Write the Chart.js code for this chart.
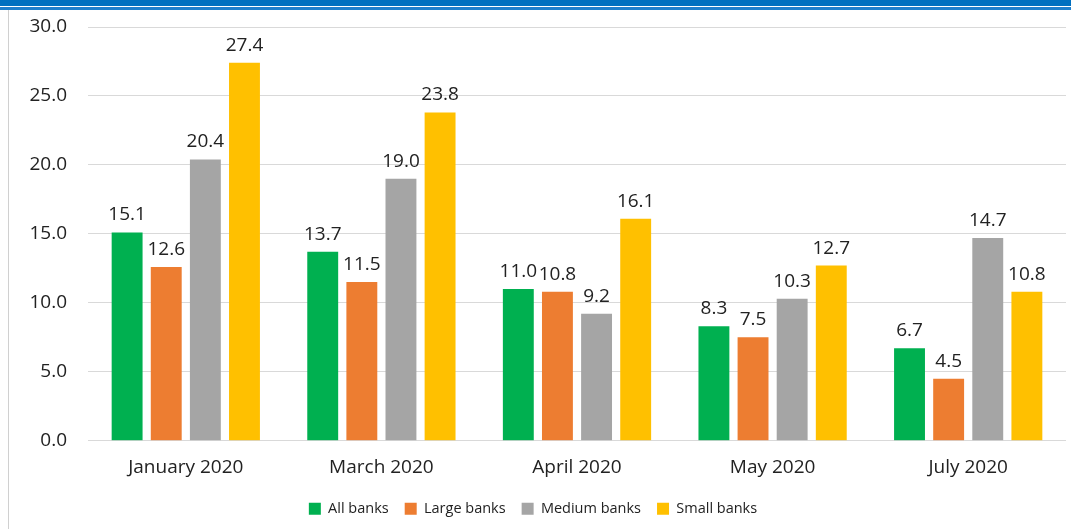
<!DOCTYPE html>
<html lang="en">
<head>
  <meta charset="UTF-8" />
  <title>Banks chart</title>
  <script src="https://cdn.jsdelivr.net/npm/chart.js"></script>
  <style>
    body {
      margin: 0;
      background-color: #ffffff;
      font-family: 'Open Sans', 'Noto Sans', sans-serif;
    }
    #wrap {
      position: relative;
      width: 1071px;
      height: 529px;
      overflow: hidden;
    }
    #topbar {
      position: absolute;
      left: 0; top: 0;
      width: 1071px; height: 6px;
      background-color: #0070c0;
    }
    #topline {
      position: absolute;
      left: 0; top: 7px;
      width: 1071px; height: 3px;
      background-color: #1f7fcc;
    }
    #leftline {
      position: absolute;
      left: 8px; top: 10px;
      width: 1px; height: 519px;
      background-color: #d0d0d0;
    }
    canvas {
      position: absolute;
      left: 0; top: 0;
    }
  </style>
</head>
<body>
<div id="wrap">
  <canvas id="bankChart" width="1071" height="529"></canvas>
  <div id="topbar"></div>
  <div id="topline"></div>
  <div id="leftline"></div>
</div>

<script>
  const months = ['January 2020', 'March 2020', 'April 2020', 'May 2020', 'July 2020'];
  const allBanks = [15.1, 13.7, 11.0, 8.3, 6.7];
  const largeBanks = [12.6, 11.5, 10.8, 7.5, 4.5];
  const mediumBanks = [20.4, 19.0, 9.2, 10.3, 14.7];
  const smallBanks = [27.4, 23.8, 16.1, 12.7, 10.8];

  const textColor = '#222222';
  const fontFamily = "'Open Sans', 'Noto Sans', sans-serif";

  // draws the value above each bar
  const valueLabels = {
    id: 'valueLabels',
    afterDatasetsDraw(chart) {
      const c = chart.ctx;
      c.save();
      c.font = '19px ' + fontFamily;
      c.fillStyle = textColor;
      c.textAlign = 'center';
      c.textBaseline = 'alphabetic';
      chart.data.datasets.forEach((ds, i) => {
        chart.getDatasetMeta(i).data.forEach((bar, j) => {
          c.fillText(ds.data[j].toFixed(1), bar.x, bar.y - 12);
        });
      });
      c.restore();
    }
  };

  new Chart(document.getElementById('bankChart'), {
    type: 'bar',
    data: {
      labels: months,
      datasets: [
        { label: 'All banks', data: allBanks, backgroundColor: '#00b050' },
        { label: 'Large banks', data: largeBanks, backgroundColor: '#ed7d31' },
        { label: 'Medium banks', data: mediumBanks, backgroundColor: '#a5a5a5' },
        { label: 'Small banks', data: smallBanks, backgroundColor: '#ffc000' }
      ]
    },
    options: {
      responsive: false,
      animation: false,
      datasets: {
        bar: { categoryPercentage: 0.8, barPercentage: 0.79 }
      },
      layout: { padding: { top: 27, right: 5, left: 0, bottom: 3 } },
      plugins: {
        tooltip: { enabled: false },
        legend: {
          position: 'bottom',
          labels: {
            boxWidth: 12,
            boxHeight: 12,
            padding: 16,
            color: textColor,
            font: { size: 14.5, family: fontFamily }
          }
        }
      },
      scales: {
        x: {
          grid: { display: false },
          border: { display: false },
          ticks: { color: textColor, font: { size: 19, family: fontFamily }, padding: 7 }
        },
        y: {
          min: 0,
          max: 30,
          afterFit(scale) {
            scale.width = 88;
            scale.paddingTop = 0;
            scale.paddingBottom = 0;
          },
          grid: { color: '#d9d9d9', drawTicks: false },
          border: { display: false },
          ticks: {
            stepSize: 5,
            padding: 21,
            color: textColor,
            font: { size: 19, family: fontFamily },
            callback: v => v.toFixed(1)
          }
        }
      }
    },
    plugins: [valueLabels]
  });
</script>
</body>
</html>
